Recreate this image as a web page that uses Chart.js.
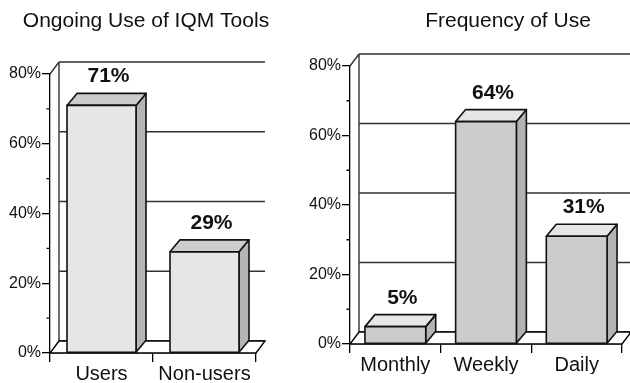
<!DOCTYPE html>
<html>
<head>
<meta charset="utf-8">
<script src="https://cdn.jsdelivr.net/npm/chart.js@4/dist/chart.umd.min.js"></script>
<style>
  html, body { margin: 0; padding: 0; background: #fff; }
  #wrap { position: relative; width: 630px; height: 383px; }
  .pane { position: absolute; top: 0; height: 383px; }
</style>
</head>
<body>
<div id="wrap">
  <div class="pane" style="left:0;width:290px"><canvas id="useChart"></canvas></div>
  <div class="pane" style="left:290px;width:340px"><canvas id="freqChart"></canvas></div>
</div>
<script>
const useLabels = ['Users', 'Non-users'];
const useValues = [71, 29];
const freqLabels = ['Monthly', 'Weekly', 'Daily'];
const freqValues = [5, 64, 31];
const axisTicks = [0, 20, 40, 60, 80];
const minorTicks = [10, 30, 50, 70];

const WALL = { x: 9, y: -12 };
const BAR = { x: 10, y: -12 };

Chart.defaults.font.family = '"Liberation Sans", Arial, sans-serif';
Chart.defaults.color = '#111';

function poly(ctx, pts, fill) {
  ctx.beginPath();
  ctx.moveTo(pts[0][0], pts[0][1]);
  pts.slice(1).forEach(p => ctx.lineTo(p[0], p[1]));
  ctx.closePath();
  ctx.fillStyle = fill;
  ctx.fill();
  ctx.stroke();
}

// back wall, floor, extruded bars and their value labels
const box3d = {
  id: 'box3d',
  beforeDatasetsDraw(chart, args, opts) {
    const { ctx, chartArea: a } = chart;
    const y = chart.scales.y;
    const bl = a.left + WALL.x;
    const br = a.right + WALL.x;
    ctx.save();
    ctx.strokeStyle = '#333';
    ctx.lineWidth = 1.4;
    ctx.beginPath();
    axisTicks.forEach(v => {
      const py = y.getPixelForValue(v) + WALL.y;
      ctx.moveTo(bl, py);
      ctx.lineTo(br, py);
    });
    ctx.moveTo(bl, a.top + WALL.y);
    ctx.lineTo(bl, a.bottom + WALL.y);
    ctx.moveTo(a.left, a.top);
    ctx.lineTo(bl, a.top + WALL.y);
    ctx.stroke();

    ctx.strokeStyle = '#000';
    poly(ctx, [[a.left, a.bottom], [a.right, a.bottom], [br, a.bottom + WALL.y], [bl, a.bottom + WALL.y]], '#fff');

    // short minor ticks on the value axis
    ctx.beginPath();
    minorTicks.forEach(v => {
      const py = y.getPixelForValue(v);
      ctx.moveTo(a.left - 3.5, py);
      ctx.lineTo(a.left, py);
    });
    ctx.stroke();
    ctx.restore();
  },
  afterDatasetsDraw(chart, args, opts) {
    const { ctx } = chart;
    const meta = chart.getDatasetMeta(0);
    const values = chart.data.datasets[0].data;
    ctx.save();
    ctx.strokeStyle = '#111';
    ctx.lineWidth = 1.6;
    ctx.lineJoin = 'round';
    meta.data.forEach((bar, i) => {
      const { x, y, base, width } = bar.getProps(['x', 'y', 'base', 'width'], true);
      const l = x - width / 2;
      const r = x + width / 2;
      poly(ctx, [[r, y], [r + BAR.x, y + BAR.y], [r + BAR.x, base + BAR.y], [r, base]], opts.side);
      poly(ctx, [[l, y], [l + BAR.x, y + BAR.y], [r + BAR.x, y + BAR.y], [r, y]], opts.top);
      poly(ctx, [[l, y], [r, y], [r, base], [l, base]], opts.front);

      ctx.fillStyle = '#111';
      ctx.font = 'bold 21px "Liberation Sans", Arial, sans-serif';
      ctx.textAlign = 'center';
      ctx.textBaseline = 'alphabetic';
      ctx.fillText(values[i] + '%', x + 7, y - 23);
    });

    ctx.font = '21px "Liberation Sans", Arial, sans-serif';
    ctx.textAlign = 'center';
    ctx.fillText(opts.title, opts.titleX, 27);
    ctx.restore();
  }
};

function makeChart(id, labels, values, cfg) {
  return new Chart(document.getElementById(id), {
    type: 'bar',
    data: {
      labels: labels,
      datasets: [{
        data: values,
        backgroundColor: 'rgba(0,0,0,0)',
        borderWidth: 0,
        barPercentage: 0.67,
        categoryPercentage: 1
      }]
    },
    options: {
      responsive: true,
      maintainAspectRatio: false,
      animation: false,
      layout: { padding: cfg.padding },
      plugins: {
        legend: { display: false },
        tooltip: { enabled: false },
        box3d: cfg.look
      },
      scales: {
        x: {
          afterFit: s => { s.height = 30; },
          grid: { drawOnChartArea: false, offset: true, tickLength: 9, color: '#000', lineWidth: 1.3 },
          border: { color: '#000', width: 1.3 },
          ticks: { font: { size: 20 }, padding: 0 }
        },
        y: {
          min: 0,
          max: 80,
          afterBuildTicks: s => { s.ticks = axisTicks.map(v => ({ value: v })); },
          afterFit: s => { s.width = cfg.axisWidth; },
          grid: { drawOnChartArea: false, tickLength: 8, color: '#000', lineWidth: 1.3 },
          border: { color: '#000', width: 1.3 },
          ticks: { font: { size: 16 }, padding: 1, callback: v => v + '%' }
        }
      }
    },
    plugins: [box3d]
  });
}

makeChart('useChart', useLabels, useValues, {
  axisWidth: 50,
  padding: { top: 74, right: 34, bottom: 0, left: 0 },
  look: { front: '#e6e6e6', top: '#cdcdcd', side: '#b5b5b5', title: 'Ongoing Use of IQM Tools', titleX: 146 }
});

makeChart('freqChart', freqLabels, freqValues, {
  axisWidth: 60,
  padding: { top: 66, right: 8, bottom: 9, left: 0 },
  look: { front: '#cccccc', top: '#e6e6e6', side: '#b3b3b3', title: 'Frequency of Use', titleX: 218 }
});
</script>
</body>
</html>
